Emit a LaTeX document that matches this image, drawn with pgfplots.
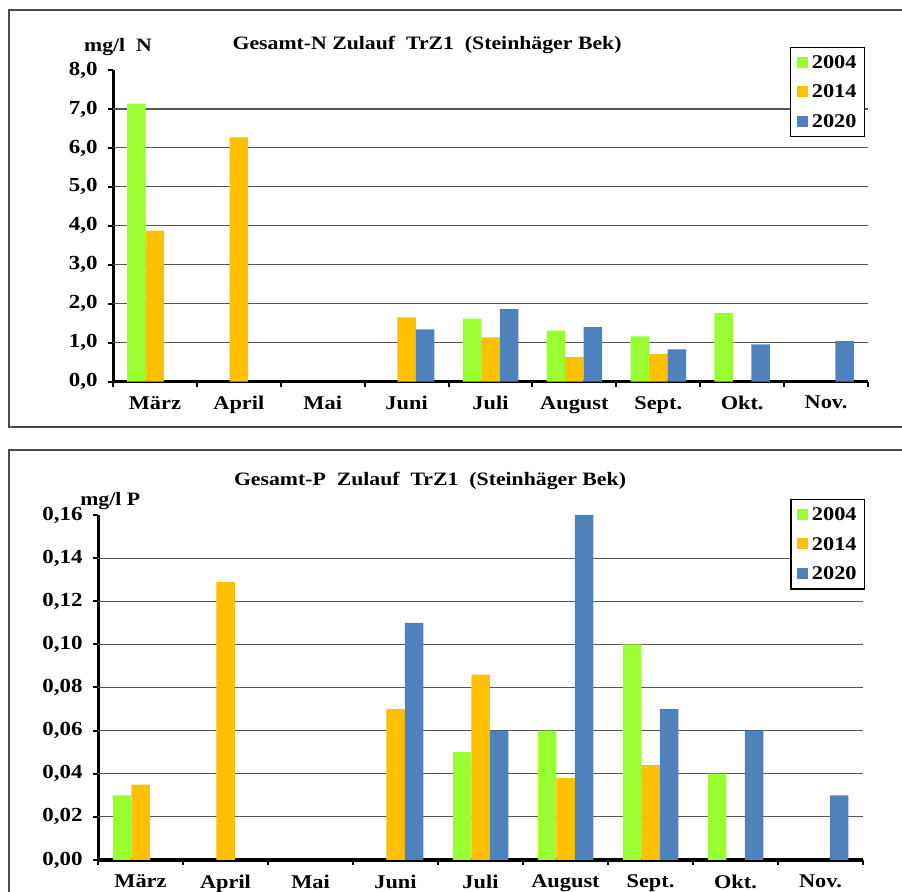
\documentclass[border=0pt]{standalone}
\usepackage{fontspec}
\setmainfont[FakeStretch=1.15]{Liberation Serif}
\usepackage{pgfplots}
\pgfplotsset{compat=1.18}
\definecolor{g04}{RGB}{153,255,51}
\definecolor{o14}{RGB}{255,192,0}
\definecolor{b20}{RGB}{79,129,189}
\definecolor{gridc}{RGB}{85,85,85}

\newcommand{\lab}{\fontsize{19.5}{22}\selectfont\bfseries}
\newcommand{\ylab}{\fontsize{20}{22}\selectfont\bfseries}
\newcommand{\tlab}{\fontsize{19}{22}\selectfont\bfseries}

\pgfplotsset{
  monthbars/.style={
    scale only axis,
    anchor=south west,
    ybar=0pt, bar width=18.5bp,
    xmin=-0.5, xmax=8.5,
    xtick={-0.5,0.5,...,8.5},
    x tick label as interval,
    xticklabels={März,April,Mai,Juni,Juli,August,Sept.,Okt.,Nov.},
    ymin=0,
    axis x line*=bottom, axis y line*=left,
    axis line style={line width=3bp, black, -},
    tick align=outside, major tick length=5bp,
    tick style={line width=2bp, black},
    font=\lab,
    xticklabel style={font=\lab, yshift=-6bp},
    yticklabel style={font=\ylab, xshift=-7bp, /pgf/number format/.cd, fixed, fixed zerofill, use comma, assume math mode=true},
    extra y tick labels={},
    extra y tick style={grid=major, major tick length=0pt},
    major grid style={gridc, line width=1.1bp},
    legend cell align=left,
    legend image code/.code={\fill[##1] (4bp,-5bp) rectangle (15bp,6bp);},
    legend style={draw=black, line width=1.2bp, fill=white, font=\lab,
      row sep=11bp, inner xsep=6bp, inner ysep=6bp,
      /tikz/every odd column/.append style={column sep=2bp}},
    every axis plot/.append style={draw=none},
    title style={anchor=center, font=\tlab},
    ylabel style={rotate=-90, anchor=center, font=\tlab},
  }
}

\begin{document}
\begin{tikzpicture}
\useasboundingbox (0bp,0bp) rectangle (902bp,892bp);
\clip (0bp,0bp) rectangle (902bp,892bp);
\fill[white] (0bp,0bp) rectangle (902bp,892bp);
% chart frames
\draw[black!70, line width=1.2bp] (910bp,882bp) -- (9bp,882bp) -- (9bp,465bp) -- (910bp,465bp);
\draw[black!70, line width=1.2bp] (910bp,442bp) -- (9bp,442bp) -- (9bp,-10bp);

% Gesamt-N
\begin{axis}[monthbars,
  at={(113bp,510.3bp)}, width=755bp, height=311.7bp,
  ymax=8, ytick={0,1,...,8},
  yticklabel style={/pgf/number format/precision=1},
  extra y ticks={1,2,...,7},
  title={Gesamt-N Zulauf~ TrZ1~ (Steinhäger Bek)},
  title style={at={(0.416,1.061)}},
  ylabel={mg/l~ N},
  ylabel style={at={(0.0066,1.074)}},
  legend style={at={(0.897,1.074)}, anchor=north west},
]
\addplot[fill=g04] coordinates {(0,7.14) (4,1.62) (5,1.31) (6,1.16) (7,1.76)};
\addplot[fill=o14] coordinates {(0,3.88) (1,6.27) (3,1.65) (4,1.14) (5,0.63) (6,0.71)};
\addplot[fill=b20] coordinates {(3,1.34) (4,1.86) (5,1.40) (6,0.83) (7,0.96) (8,1.04)};
\legend{2004,2014,2020}
\end{axis}

% Gesamt-P
\begin{axis}[monthbars,
  at={(98bp,32bp)}, width=765bp, height=345bp,
  ymax=0.16, ytick={0,0.02,...,0.16},
  yticklabel style={/pgf/number format/precision=2},
  extra y ticks={0.02,0.04,...,0.14},
  title={Gesamt-P~ Zulauf~ TrZ1~ (Steinhäger Bek)},
  title style={at={(0.434,1.081)}},
  ylabel={mg/l P},
  ylabel style={at={(0.016,1.04)}},
  legend style={at={(0.905,1.046)}, anchor=north west},
]
\addplot[fill=g04] coordinates {(0,0.030) (4,0.050) (5,0.060) (6,0.100) (7,0.040)};
\addplot[fill=o14] coordinates {(0,0.035) (1,0.129) (3,0.070) (4,0.086) (5,0.038) (6,0.044)};
\addplot[fill=b20] coordinates {(3,0.110) (4,0.060) (5,0.160) (6,0.070) (7,0.060) (8,0.030)};
\legend{2004,2014,2020}
\end{axis}
\end{tikzpicture}
\end{document}
